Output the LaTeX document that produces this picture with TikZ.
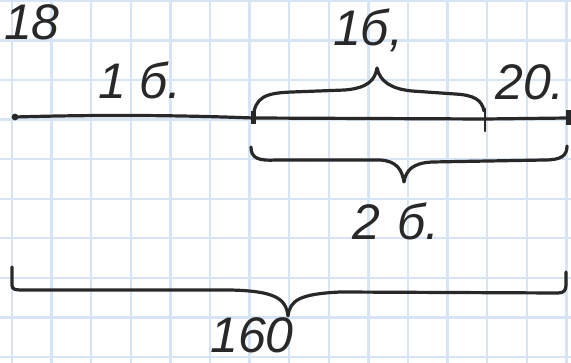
\documentclass[tikz,border=0pt]{standalone}
\usepackage{fontspec}
\setmainfont{Liberation Sans}
\usetikzlibrary{calc}
\definecolor{gridblue}{RGB}{214,228,246}
\definecolor{ink}{RGB}{40,40,40}
\tikzset{
  gridline/.style={draw=gridblue, line width=2.4pt},
  stroke/.style={draw=ink, line width=3.2pt, line cap=round, line join=round},
  hand/.style={text=ink, font=\fontsize{50}{50}\selectfont\itshape, inner sep=0pt},
  tickmark/.style={draw=ink, line width=2.4pt, line cap=round},
  heavytick/.style={draw=ink, line width=5pt},
}
\begin{document}
\begin{tikzpicture}[x=1pt,y=-1pt]
\useasboundingbox (0,0) rectangle (571,363);
\fill[white] (0,0) rectangle (571,363);
% grid
\foreach \k in {0,...,14} {\draw[gridline] ({12+39.6*\k},0) -- ({12+39.6*\k},363);}
\foreach \k in {0,...,9} {\draw[gridline] (0,{1+39.55*\k}) -- (571,{1+39.55*\k});}
\begin{scope}
\clip (0,0) rectangle (571,363);
% points on the line
\coordinate (A) at (15,117);
\coordinate (B) at (253,118);
\coordinate (C) at (485,119);
\coordinate (D) at (568,118);
% main segment
\draw[stroke] (A) .. controls (120,114) and (200,116) .. (B) -- (C) -- (D);
\fill[ink] (A) circle (3.4pt);
\draw[heavytick] ($(B)+(0,-7)$) -- ($(B)+(0,6)$);
\draw[tickmark] ($(C)+(0,-10)$) -- ($(C)+(0,12)$);
\draw[heavytick] ($(D)+(0,-8)$) -- ($(D)+(0,7)$);
% top brace (over B..C)
\coordinate (tt) at (377,68);
\draw[stroke] (B) .. controls (255,97) and (265,93) .. (292,92) -- (345,90)
  .. controls (368,88) and (375,80) .. (tt)
  .. controls (380,82) and (392,89) .. (412,91) -- (455,94)
  .. controls (474,95) and (482,100) .. ($(C)+(-1,-8)$);
% lower brace (under B..D)
\coordinate (lt) at (404,182);
\draw[stroke] (251,147) .. controls (251,158) and (258,161) .. (276,160) -- (380,160)
  .. controls (397,161) and (402,170) .. (lt)
  .. controls (406,170) and (413,163) .. (432,162) -- (545,160)
  .. controls (562,160) and (567,155) .. (567,146);
% bottom brace (whole)
\coordinate (bt) at (288,316);
\draw[stroke] (12,267) -- (12,285) .. controls (12,290) and (15,290) .. (26,290) -- (230,290)
  .. controls (274,291) and (286,298) .. (bt)
  .. controls (290,300) and (300,294) .. (340,292) -- (558,293)
  .. controls (564,293) and (566,290) .. (566,285) -- (566,272);
\end{scope}
% labels
\node[hand, anchor=east] (l18) at (60,22) {18};
\node[hand] (l1b) at (140,80) {1 б.};
\node[hand] (ltop) at (368,30) {1б,};
\node[hand] (l20) at (530,82) {20.};
\node[hand] (l2b) at (396,221) {2\,\,б.};
\node[hand] (l160) at (252,335) {160};
\end{tikzpicture}
\end{document}
